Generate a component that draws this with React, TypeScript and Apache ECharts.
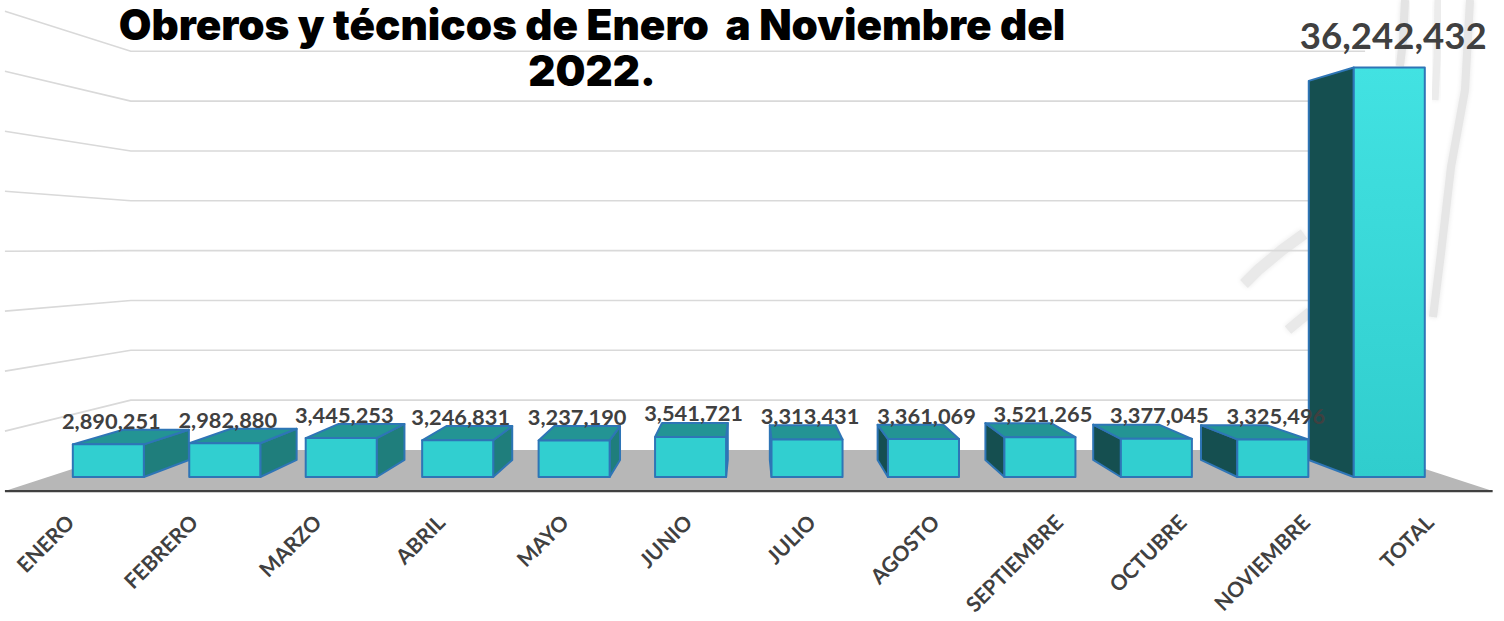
import React, { useEffect, useRef } from "react";
import * as echarts from "echarts";

const categories = ["ENERO","FEBRERO","MARZO","ABRIL","MAYO","JUNIO","JULIO","AGOSTO","SEPTIEMBRE","OCTUBRE","NOVIEMBRE","TOTAL"];
const values = [2890251,2982880,3445253,3246831,3237190,3541721,3313431,3361069,3521265,3377045,3325496,36242432];
const gridTicks = [5000000,10000000,15000000,20000000,25000000,30000000,35000000,40000000];
const titleText = "Obreros y técnicos de Enero  a Noviembre del\n2022.";

const VP = [749, 248];
const S_BACK = 0.9256;
const S_WALL_FRONT = 1.0616;
const S_WALL_BACK = 0.882;
const proj = (p: number[], s: number) => [VP[0] + (p[0] - VP[0]) * s, VP[1] + (p[1] - VP[1]) * s];

const fmt = (v: number) => v.toLocaleString("en-US");

const wallItem = (params: any, api: any) => {
  const cs = params.coordSys;
  const left = cs.x - 2;
  const right = cs.x + cs.width;
  const v = api.value(0);
  const y = api.coord([0, v])[1];
  const a = proj([left, y], S_WALL_FRONT);
  const b = proj([left, y], S_WALL_BACK);
  const c = proj([right, y], S_WALL_BACK);
  return {
    type: "polyline",
    shape: { points: [a, b, c] },
    style: { stroke: "#d9d9d9", lineWidth: 1.6, fill: "none" },
  };
};

const floorItem = (params: any, api: any) => {
  const cs = params.coordSys;
  const left = cs.x - 2;
  const right = cs.x + cs.width + 2;
  const y = api.coord([0, 0])[1];
  const pts = [proj([left, y], S_WALL_FRONT), proj([right, y], S_WALL_FRONT), proj([right, y], S_WALL_BACK), proj([left, y], S_WALL_BACK)];
  return {
    type: "group",
    children: [
      { type: "polygon", shape: { points: pts }, style: { fill: "#b7b7b7" } },
      { type: "line", shape: { x1: pts[0][0], y1: pts[0][1], x2: pts[1][0], y2: pts[1][1] }, style: { stroke: "#404040", lineWidth: 2.4 } },
    ],
  };
};

const barItem = (params: any, api: any) => {
  const idx = api.value(0);
  const val = api.value(1);
  const [cx, y0] = api.coord([idx, 0]);
  const y1 = api.coord([idx, val])[1];
  const w = api.size([1, 0])[0] * 0.61;
  const xl = cx - w / 2;
  const xr = cx + w / 2;
  const bl = [xl, y0], br = [xr, y0], tl = [xl, y1], tr = [xr, y1];
  const btl = proj(tl, S_BACK), btr = proj(tr, S_BACK), bbl = proj(bl, S_BACK), bbr = proj(br, S_BACK);
  const edge = { stroke: "#2e75b6", lineWidth: 2, lineJoin: "round" };
  const children: any[] = [];
  if (btr[0] > xr) {
    children.push({ type: "polygon", shape: { points: [tr, btr, bbr, br] }, style: { fill: "#1f7e7c", ...edge } });
  }
  if (btl[0] < xl) {
    children.push({ type: "polygon", shape: { points: [tl, btl, bbl, bl] }, style: { fill: "#154f50", ...edge } });
  }
  if (y1 > VP[1]) {
    children.push({ type: "polygon", shape: { points: [tl, tr, btr, btl] }, style: { fill: "#239494", ...edge } });
  }
  children.push({
    type: "rect",
    shape: { x: xl, y: y1, width: w, height: y0 - y1 },
    style: {
      fill: val > 10000000
        ? new echarts.graphic.LinearGradient(0, 0, 0, 1, [{ offset: 0, color: "#42e2e2" }, { offset: 1, color: "#30cdcd" }])
        : "#31cfd0",
      ...edge,
    },
  });
  return { type: "group", children };
};

const labelItem = (params: any, api: any) => {
  const idx = api.value(0);
  const val = api.value(1);
  const [cx] = api.coord([idx, 0]);
  const y1 = api.coord([idx, val])[1];
  const big = val > 10000000;
  return {
    type: "text",
    x: cx + (big ? 4 : 3),
    y: y1 - (big ? 32 : 24),
    style: {
      text: fmt(val),
      fontFamily: "Lato",
      fontWeight: "bold",
      fontSize: big ? 36.6 : 21.8,
      fill: "#404040",
      align: "center",
      verticalAlign: "middle",
    },
  };
};

const streak = (points: number[][], w: number, c: string) => ({
  type: "polyline",
  silent: true,
  z: -10,
  shape: { points },
  style: { stroke: c, lineWidth: w, fill: "none", lineCap: "butt", lineJoin: "round", shadowBlur: 5, shadowColor: c },
});

export default function App() {
  const ref = useRef<HTMLDivElement>(null);
  useEffect(() => {
    document.body.style.margin = "0";
    document.body.style.overflow = "hidden";
    const chart = echarts.init(ref.current!, undefined, { renderer: "svg" });
    chart.setOption({
      animation: false,
      backgroundColor: "#ffffff",
      title: {
        text: titleText,
        left: 587,
        top: -4,
        textAlign: "center",
        textStyle: { fontFamily: "Inter", fontWeight: 900, fontSize: 42.2, lineHeight: 46, color: "#000000" },
      },
      grid: [
        { left: 50.1, top: 25, width: 1397.4, height: 452 },
        { left: 8, top: 11, width: 1483, height: 480 },
      ],
      xAxis: [
        { type: "category", gridIndex: 0, data: categories, show: false },
        {
          type: "category",
          gridIndex: 1,
          data: categories,
          axisLine: { show: false },
          axisTick: { show: false },
          axisLabel: { rotate: 45, margin: 27, interval: 0, fontFamily: "Lato", fontWeight: "bold", fontSize: 21, color: "#404040" },
        },
      ],
      yAxis: [
        { type: "value", gridIndex: 0, min: 0, max: 40000000, interval: 5000000, show: false },
        { type: "value", gridIndex: 1, min: 0, max: 40000000, interval: 5000000, show: false },
      ],
      graphic: {
        elements: [
          streak([[1244, 284], [1258, 270], [1282, 250], [1304, 234]], 11, "#e9e9e9"),
          streak([[1288, 330], [1300, 320], [1310, 312]], 10, "#e9e9e9"),
          streak([[1405, 0], [1403, 40], [1400, 66]], 8, "#e4e4e4"),
          streak([[1438, 0], [1437, 60], [1435, 100]], 7, "#ececec"),
          streak([[1470, 0], [1465, 90], [1451, 167], [1441, 253], [1433, 317]], 8, "#e6e6e6"),
          streak([[1498, 0], [1498, 427]], 8, "#efefef"),
        ],
      },
      series: [
        {
          type: "custom", xAxisIndex: 0, yAxisIndex: 0, z: 1, silent: true, clip: false,
          data: [[0]], renderItem: floorItem,
        },
        {
          type: "custom", xAxisIndex: 0, yAxisIndex: 0, z: 2, silent: true, clip: false,
          encode: { x: 1, y: 0 },
          data: gridTicks.map((t) => [t, 0]), renderItem: wallItem,
        },
        {
          type: "custom", xAxisIndex: 0, yAxisIndex: 0, z: 3, silent: true, clip: false,
          encode: { x: 0, y: 1 },
          data: values.map((v, i) => [i, v]), renderItem: barItem,
        },
        {
          type: "custom", xAxisIndex: 0, yAxisIndex: 0, z: 4, silent: true, clip: false,
          encode: { x: 0, y: 1 },
          data: values.map((v, i) => [i, v]), renderItem: labelItem,
        },
      ],
    });
    return () => chart.dispose();
  }, []);
  return <div ref={ref} style={{ width: 1504, height: 621 }} />;
}
